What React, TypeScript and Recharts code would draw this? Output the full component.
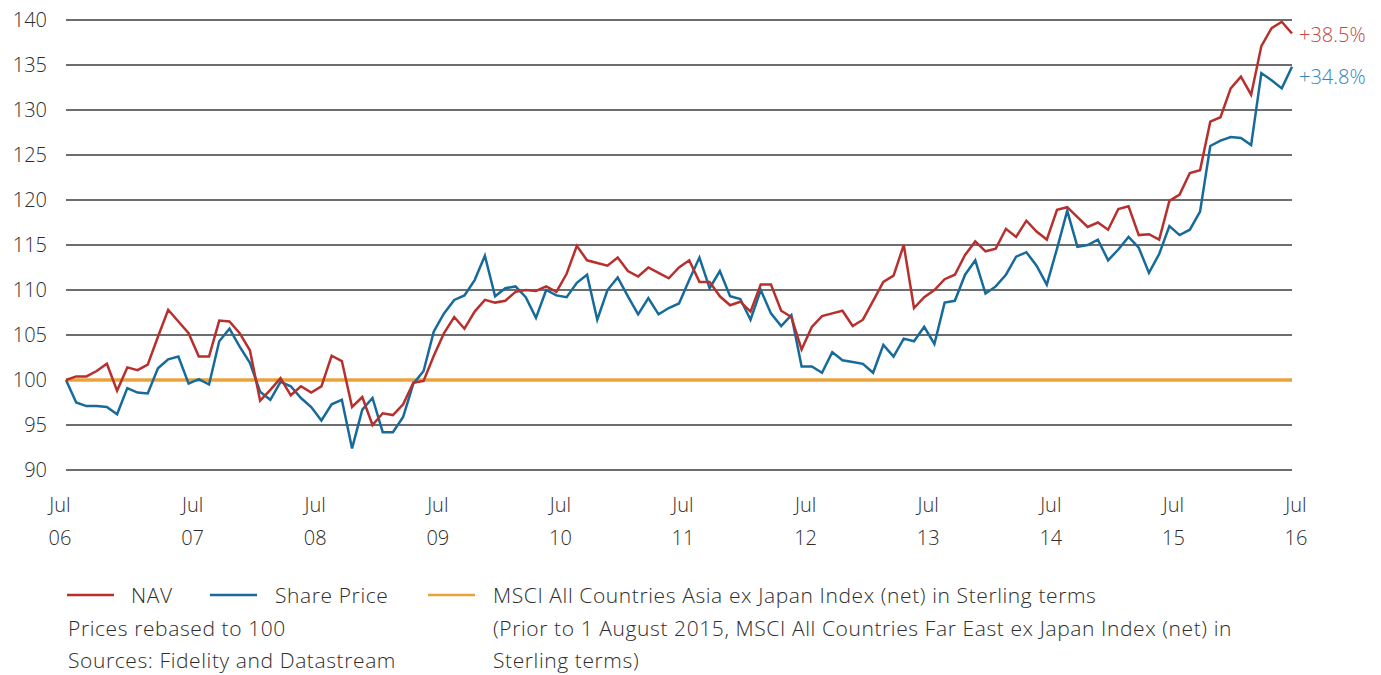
import { LineChart, Line, XAxis, YAxis, CartesianGrid } from "recharts";

// monthly points, Jul 06 .. Jul 16, rebased to 100
const NAV = [
  100, 100.4, 100.4, 101.0, 101.8, 98.8, 101.4, 101.1, 101.7, 104.8,
  107.8, 106.5, 105.2, 102.6, 102.6, 106.6, 106.5, 105.2, 103.3, 97.7,
  98.9, 100.2, 98.3, 99.3, 98.6, 99.3, 102.7, 102.1, 97.0, 98.1,
  95.0, 96.3, 96.1, 97.3, 99.7, 99.9, 102.7, 105.2, 107.0, 105.7,
  107.6, 108.9, 108.6, 108.8, 109.8, 110.0, 109.9, 110.4, 109.8, 111.8,
  114.9, 113.3, 113.0, 112.7, 113.6, 112.1, 111.5, 112.5, 111.9, 111.3,
  112.5, 113.3, 110.9, 110.9, 109.3, 108.3, 108.7, 107.6, 110.6, 110.6,
  107.7, 107.0, 103.4, 105.9, 107.1, 107.4, 107.7, 106.0, 106.7, 108.8,
  110.9, 111.6, 115.0, 108.0, 109.2, 110.0, 111.2, 111.7, 113.9, 115.4,
  114.3, 114.6, 116.8, 115.9, 117.7, 116.5, 115.6, 118.9, 119.2, 118.1,
  117.0, 117.5, 116.7, 119.0, 119.3, 116.1, 116.2, 115.6, 119.9, 120.6,
  123.0, 123.3, 128.7, 129.2, 132.4, 133.7, 131.7, 137.1, 139.1, 139.8,
  138.5,
];

const SHARE_PRICE = [
  100, 97.5, 97.1, 97.1, 97.0, 96.2, 99.1, 98.6, 98.5, 101.3,
  102.3, 102.6, 99.6, 100.1, 99.5, 104.3, 105.7, 103.7, 101.9, 98.7,
  97.8, 99.8, 99.3, 98.0, 97.0, 95.5, 97.3, 97.8, 92.4, 96.7,
  98.0, 94.2, 94.2, 95.9, 99.6, 101.0, 105.4, 107.4, 108.9, 109.4,
  111.1, 113.8, 109.3, 110.2, 110.4, 109.2, 106.9, 110.0, 109.4, 109.2,
  110.8, 111.7, 106.7, 110.0, 111.4, 109.3, 107.3, 109.1, 107.3, 108.0,
  108.5, 111.1, 113.6, 110.2, 112.1, 109.3, 109.0, 106.7, 110.0, 107.4,
  106.0, 107.2, 101.5, 101.5, 100.8, 103.1, 102.2, 102.0, 101.8, 100.8,
  103.9, 102.6, 104.6, 104.3, 105.9, 104.0, 108.6, 108.8, 111.7, 113.3,
  109.6, 110.4, 111.7, 113.7, 114.2, 112.7, 110.6, 114.6, 118.8, 114.8,
  115.0, 115.6, 113.3, 114.5, 115.9, 114.7, 111.9, 114.0, 117.1, 116.1,
  116.7, 118.7, 126.0, 126.6, 127.0, 126.9, 126.1, 134.1, 133.3, 132.4,
  134.8,
];

// benchmark is the rebasing reference, so it stays flat
const INDEX_LEVEL = 100;

const X_TICKS = [0, 12, 24, 36, 48, 60, 72, 84, 96, 108, 120];
const X_MONTH = "Jul";
const X_YEARS = ["06", "07", "08", "09", "10", "11", "12", "13", "14", "15", "16"];
const Y_TICKS = [90, 95, 100, 105, 110, 115, 120, 125, 130, 135, 140];

const NAV_END = "+38.5%";
const SHARE_END = "+34.8%";

const RED = "#B7302E";
const BLUE = "#176B9A";
const ORANGE = "#E9A33A";
const TEXT = "#2e2e2e";
const FONT = "'Open Sans', Lato, sans-serif";

const data = NAV.map((v, i) => ({
  i,
  nav: v,
  share: SHARE_PRICE[i],
  index: INDEX_LEVEL,
}));

function YearTick({ x, y, payload }: any) {
  const k = X_TICKS.indexOf(payload.value);
  const cx = k === 0 ? x - 6 : x + 4;
  return (
    <text x={cx} y={y} textAnchor="middle" fill={TEXT} fontSize={20} fontWeight={300} fontFamily={FONT}>
      <tspan x={cx} dy={34}>{X_MONTH}</tspan>
      <tspan x={cx} dy={33}>{X_YEARS[k]}</tspan>
    </text>
  );
}

function endLabel(text: string, color: string, dy: number) {
  return (p: any) => {
    if (p.index !== NAV.length - 1) return null;
    return (
      <text x={p.x + 7} y={p.y + dy} fill={color} fontSize={20} fontWeight={300} fontFamily={FONT}>
        {text}
      </text>
    );
  };
}

export default function App() {
  return (
    <div style={{ position: "absolute", left: 0, top: 0, width: 1381, height: 675, background: "#fff" }}>
      <LineChart
        width={1381}
        height={560}
        data={data}
        margin={{ top: 20, right: 89, left: 0, bottom: 10 }}
      >
        <CartesianGrid vertical={false} stroke="#3c3c3c" strokeWidth={1.3} />
        <XAxis
          dataKey="i"
          type="number"
          domain={[0, 120]}
          ticks={X_TICKS}
          axisLine={false}
          tickLine={false}
          height={80}
          tick={<YearTick />}
          interval={0}
        />
        <YAxis
          domain={[90, 140]}
          ticks={Y_TICKS}
          axisLine={false}
          tickLine={false}
          width={66}
          tickMargin={13}
          interval={0}
          tick={{ fill: TEXT, fontSize: 20, fontWeight: 300, fontFamily: FONT }}
        />
        <Line dataKey="index" stroke={ORANGE} strokeWidth={3.5} dot={false} isAnimationActive={false} />
        <Line
          dataKey="share"
          stroke={BLUE}
          strokeWidth={2.5}
          dot={false}
          isAnimationActive={false}
          label={endLabel(SHARE_END, "#2F86BA", 17)}
        />
        <Line
          dataKey="nav"
          stroke={RED}
          strokeWidth={2.5}
          dot={false}
          isAnimationActive={false}
          label={endLabel(NAV_END, "#C8453E", 8)}
        />
      </LineChart>

      <svg width={1381} height={115} style={{ position: "absolute", left: 0, top: 560 }}>
        <g fontFamily={FONT} fontSize={21} fontWeight={300} letterSpacing={0.6} fill={TEXT}>
          <line x1={67} x2={114} y1={35} y2={35} stroke={RED} strokeWidth={2.5} />
          <text x={131} y={43}>NAV</text>
          <line x1={210} x2={257} y1={35} y2={35} stroke={BLUE} strokeWidth={2.5} />
          <text x={275} y={43}>Share Price</text>
          <line x1={428} x2={475} y1={35} y2={35} stroke={ORANGE} strokeWidth={2.5} />
          <text x={493} y={43}>MSCI All Countries Asia ex Japan Index (net) in Sterling terms</text>
          <text x={68} y={76}>Prices rebased to 100</text>
          <text x={493} y={76}>(Prior to 1 August 2015, MSCI All Countries Far East ex Japan Index (net) in</text>
          <text x={68} y={108}>Sources: Fidelity and Datastream</text>
          <text x={493} y={108}>Sterling terms)</text>
        </g>
      </svg>
    </div>
  );
}
